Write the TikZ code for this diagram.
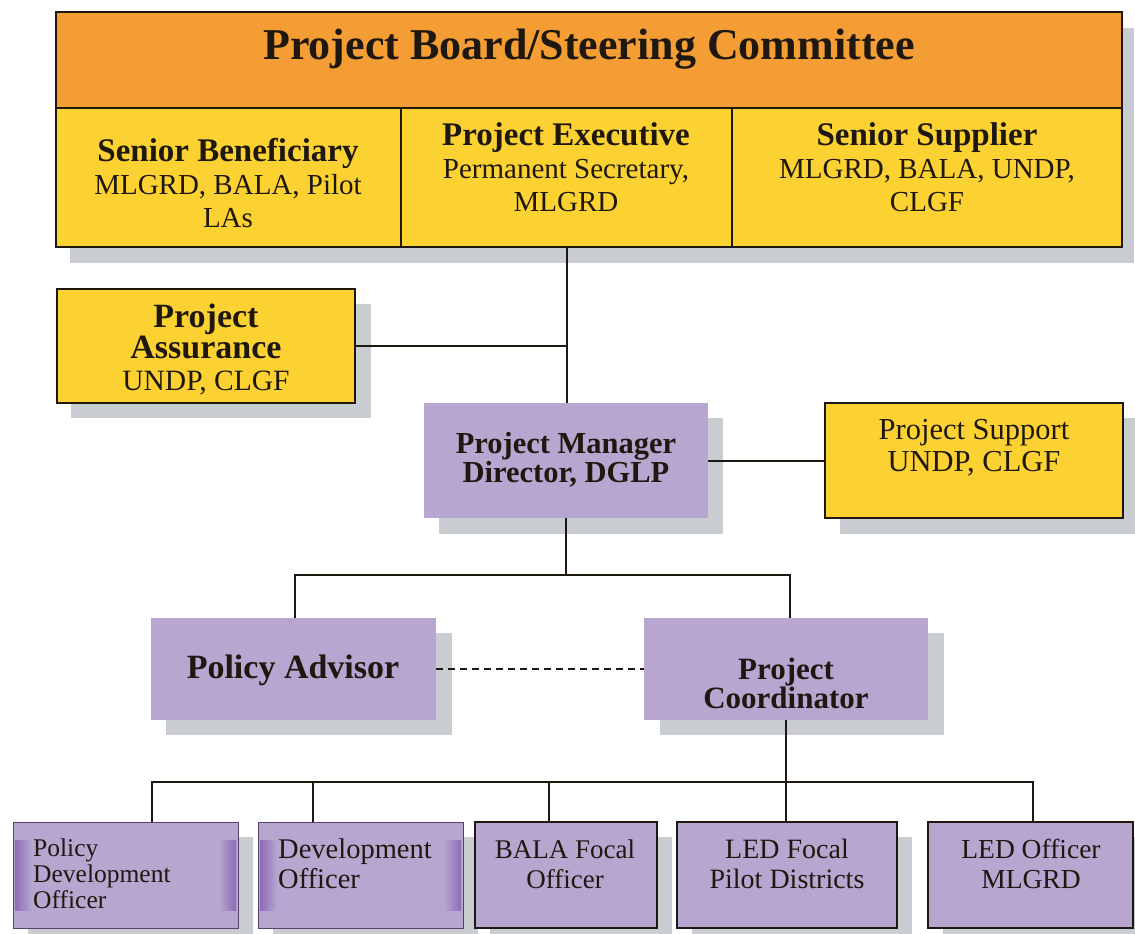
\documentclass[tikz,border=0pt]{standalone}
\usepackage{fontspec}
\setmainfont{Liberation Serif}
\definecolor{boardorange}{RGB}{243,157,52}
\definecolor{boardyellow}{RGB}{252,210,50}
\definecolor{lilac}{RGB}{182,166,208}
\definecolor{bevelpurple}{RGB}{140,108,180}
\definecolor{shadowgray}{RGB}{201,204,209}
\definecolor{inkdark}{RGB}{30,24,16}
\newcommand\boardhead[1]{{\fontsize{33}{33}\selectfont\bfseries #1}}
\begin{document}
\begin{tikzpicture}[x=1pt,y=-1pt,
  box/.style={rectangle,anchor=north west,inner sep=0pt,outer sep=0pt},
  yellowbox/.style={box,draw=inkdark,line width=1.8pt,fill=boardyellow},
  lilacflat/.style={box,fill=lilac,draw=none},
  lilacbox/.style={box,fill=lilac,draw=inkdark,line width=1.8pt},
  bevelbox/.style={box,fill=lilac,draw=bevelpurple!60!black,line width=1pt},
  shadowbox/.style={fill=shadowgray},
  label/.style={align=center,inner sep=0pt,text=inkdark},
  link/.style={line width=2pt,draw=inkdark},
  dottedlink/.style={line width=1.5pt,draw=inkdark,dash pattern=on 7pt off 5pt}]
\useasboundingbox (0,0) rectangle (1135,934);
\fill[white] (0,0) rectangle (1135,934);

% drop shadows
\fill[shadowbox] (70,28) rectangle (1134,263);
\fill[shadowbox] (71,304) rectangle (371,418);
\fill[shadowbox] (439,418) rectangle (723,534);
\fill[shadowbox] (840,418) rectangle (1138,534);
\fill[shadowbox] (166,633) rectangle (452,735);
\fill[shadowbox] (660,633) rectangle (944,735);
\fill[shadowbox] (28,837) rectangle (253,943);
\fill[shadowbox] (273,837) rectangle (478,943);
\fill[shadowbox] (490,837) rectangle (672,943);
\fill[shadowbox] (692,837) rectangle (912,943);
\fill[shadowbox] (943,837) rectangle (1148,943);

% project board
\node[box,draw=inkdark,line width=1.8pt,fill=boardorange,minimum width=1066pt,minimum height=96pt] (hdr) at (56,12) {};
\node[yellowbox,minimum width=345pt,minimum height=139pt] (ben) at (56,108) {};
\node[yellowbox,minimum width=331pt,minimum height=139pt] (exec) at (401,108) {};
\node[yellowbox,minimum width=390pt,minimum height=139pt] (sup) at (732,108) {};

\node[label,font=\fontsize{44}{44}\selectfont\bfseries] (hdrtxt) at (589,49) {Project Board/Steering Committee};
\node[label,font=\fontsize{29}{33}\selectfont] (bentxt) at (228,183) {\boardhead{Senior Beneficiary}\\MLGRD, BALA, Pilot\\LAs};
\node[label,font=\fontsize{29}{33}\selectfont] (exectxt) at (566,167) {\boardhead{Project Executive}\\Permanent Secretary,\\MLGRD};
\node[label,font=\fontsize{29}{33}\selectfont] (suptxt) at (927,167) {\boardhead{Senior Supplier}\\MLGRD, BALA, UNDP,\\CLGF};

% assurance, manager, support
\node[yellowbox,minimum width=298pt,minimum height=114pt] (assur) at (57,289) {};
\node[label,font=\fontsize{29.5}{31.5}\selectfont] (assurtxt) at (206,349) {{\fontsize{34}{31.5}\selectfont\bfseries Project}\\{\fontsize{34}{31.5}\selectfont\bfseries Assurance}\\UNDP, CLGF};

\node[lilacflat,minimum width=284pt,minimum height=115pt] (pm) at (424,403) {};
\node[label,font=\fontsize{30.5}{29}\selectfont\bfseries] (pmtxt) at (566,460) {Project Manager\\Director, DGLP};

\node[yellowbox,minimum width=298pt,minimum height=115pt] (support) at (825,403) {};
\node[label,font=\fontsize{30.5}{32}\selectfont] (supporttxt) at (974,448) {Project Support\\UNDP, CLGF};

% advisor and coordinator
\node[lilacflat,minimum width=285pt,minimum height=102pt] (adv) at (151,618) {};
\node[label,font=\fontsize{34}{34}\selectfont\bfseries] (advtxt) at (293,670) {Policy Advisor};

\node[lilacflat,minimum width=284pt,minimum height=102pt] (coord) at (644,618) {};
\node[label,font=\fontsize{31}{29}\selectfont\bfseries] (coordtxt) at (786,683) {Project\\Coordinator};

% officers
\node[bevelbox,minimum width=225pt,minimum height=106pt] (pdo) at (13,822) {};
\shade[left color=bevelpurple,right color=lilac] (15,840) rectangle (32,910);
\shade[left color=lilac,right color=bevelpurple] (219,840) rectangle (236,910);
\node[bevelbox,minimum width=205pt,minimum height=106pt] (devo) at (258,822) {};
\shade[left color=bevelpurple,right color=lilac] (260,840) rectangle (277,910);
\shade[left color=lilac,right color=bevelpurple] (444,840) rectangle (461,910);
\node[lilacbox,minimum width=182pt,minimum height=106pt] (bala) at (475,822) {};
\node[lilacbox,minimum width=220pt,minimum height=106pt] (ledf) at (677,822) {};
\node[lilacbox,minimum width=205pt,minimum height=106pt] (ledo) at (928,822) {};

\node[label,align=left,anchor=west,font=\fontsize{25.5}{26}\selectfont] (pdotxt) at (33,874) {Policy\\Development\\Officer};
\node[label,align=left,anchor=west,font=\fontsize{28.5}{30}\selectfont] (devotxt) at (278,864) {Development\\Officer};
\node[label,font=\fontsize{27}{30}\selectfont] (balatxt) at (565,864) {BALA Focal\\Officer};
\node[label,font=\fontsize{28}{30}\selectfont] (ledftxt) at (787,864) {LED Focal\\Pilot Districts};
\node[label,font=\fontsize{27.5}{30}\selectfont] (ledotxt) at (1031,864) {LED Officer\\MLGRD};

% reporting lines
\coordinate (assurjoin) at (assur.east -| exec.south);
\coordinate (pmbus) at ([yshift=-57pt]pm.south);
\coordinate (advdrop) at ([xshift=1.5pt]adv.north);
\coordinate (coorddrop) at ([xshift=4pt]coord.north);
\coordinate (offbus) at ([yshift=40pt]ledf.north);
\coordinate (pdodrop) at ([xshift=26.5pt]pdo.north);
\coordinate (devodrop) at ([xshift=-47.5pt]devo.north);
\coordinate (baladrop) at ([xshift=-17pt]bala.north);
\coordinate (ledodrop) at ([xshift=2.5pt]ledo.north);

\draw[link] (exec.south) -- (exec.south |- pm.north);
\draw[link] (assur.east) -- (assurjoin);
\draw[link] (pm.east) -- (support.west);
\draw[link] (pm.south) -- (pmbus);
\draw[link] (advdrop) |- (pmbus) -| (coorddrop);
\draw[dottedlink] (adv.east) -- (coord.west);
\draw[link] (coord.south) -- (coord.south |- ledf.north);
\draw[link] (pdodrop) |- (offbus) -| (ledodrop);
\draw[link] (devodrop) -- (devodrop |- offbus);
\draw[link] (baladrop) -- (baladrop |- offbus);
\end{tikzpicture}
\end{document}
